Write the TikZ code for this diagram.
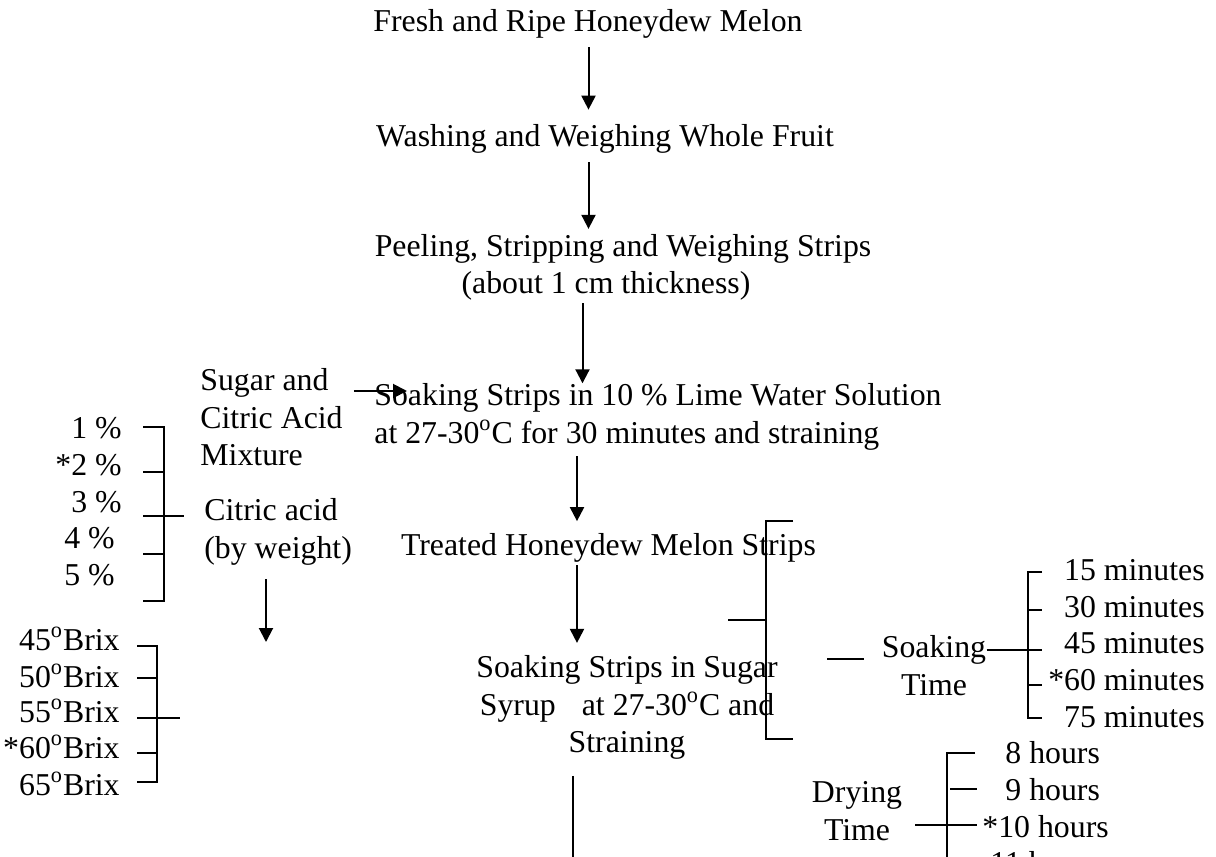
\documentclass[tikz,border=0pt]{standalone}
\usepackage{fontspec}
\setmainfont{Liberation Serif}
\usetikzlibrary{arrows.meta}

\begin{document}
\begin{tikzpicture}[x=0.5pt, y=-0.5pt,
    txt/.style={inner sep=0pt, font=\fontsize{15.9}{18.7}\selectfont},
    flow/.style={line width=1pt, -{Triangle[length=7pt, width=7pt]}},
    brk/.style={line width=1pt}]
    \clip (0,0) rectangle (1216,857);

    % Arrow columns
    \coordinate (colA) at (588.5,0);
    \coordinate (colC) at (582.5,0);
    \coordinate (colB) at (577,0);

    % Main process
    \node[txt, anchor=base] (fresh) at (588,31.7) {Fresh and Ripe Honeydew Melon};
    \node[txt, anchor=base] (wash) at (605,146.7) {Washing and Weighing Whole Fruit};
    \node[txt, anchor=base] (peel) at (623,256.7) {Peeling, Stripping and Weighing Strips};
    \node[txt, anchor=base] (peelsub) at (606,293.3) {(about 1 cm thickness)};
    \node[txt, anchor=north west, align=left] (lime) at (374,383.3)
        {Soaking Strips in 10 \% Lime Water Solution\\at 27-30\textsuperscript{o}C for 30 minutes and straining};
    \node[txt, anchor=base] (treated) at (608.5,555) {Treated Honeydew Melon Strips};
    \node[txt, anchor=north, align=center] (syrup) at (627,655.3)
        {Soaking Strips in Sugar\\Syrup\hspace{0.82em}at 27-30\textsuperscript{o}C and\\Straining};
    \coordinate (dryin) at (573,880);

    % Sugar and citric acid mixture
    \node[txt, anchor=north west, align=left] (sugar) at (200,368.5) {Sugar and\\Citric Acid\\Mixture};
    \node[txt, anchor=north west, align=left] (citric) at (204,498.3) {Citric acid\\(by weight)};
    \node[txt, anchor=base east] (pa) at (122,438) {1 \%};
    \node[txt, anchor=base east] (pb) at (122,475) {*2 \%};
    \node[txt, anchor=base east] (pc) at (122,512) {3 \%};
    \node[txt, anchor=base east] (pd) at (115,548) {4 \%};
    \node[txt, anchor=base east] (pe) at (115,585) {5 \%};
    \coordinate (brixin) at (266,642);

    % Syrup concentration
    \node[txt, anchor=base east] (ba) at (120,650) {45\textsuperscript{o}Brix};
    \node[txt, anchor=base east] (bb) at (120,687) {50\textsuperscript{o}Brix};
    \node[txt, anchor=base east] (bc) at (120,722) {55\textsuperscript{o}Brix};
    \node[txt, anchor=base east] (bd) at (120,758) {*60\textsuperscript{o}Brix};
    \node[txt, anchor=base east] (be) at (120,795) {65\textsuperscript{o}Brix};

    % Soaking time
    \node[txt, anchor=north, align=center] (soaktime) at (934,635.3) {Soaking\\Time};
    \node[txt, anchor=base east] (ma) at (1205,580) {15 minutes};
    \node[txt, anchor=base east] (mb) at (1205,617) {30 minutes};
    \node[txt, anchor=base east] (mc) at (1205,653) {45 minutes};
    \node[txt, anchor=base east] (md) at (1205,690) {*60 minutes};
    \node[txt, anchor=base east] (me) at (1205,727) {75 minutes};

    % Drying time
    \node[txt, anchor=north, align=center] (drying) at (857,781.3) {Drying\\Time};
    \node[txt, anchor=base west] (ha) at (1005,763) {8 hours};
    \node[txt, anchor=base west] (hb) at (1005,800) {9 hours};
    \node[txt, anchor=base west] (hc) at (982,837) {*10 hours};
    \node[txt, anchor=base west] (hd) at (990,873) {11 hours};

    % Flow arrows
    \draw[flow, shorten <=4.2pt, shorten >=7.3pt] (fresh.south -| colA) -- (wash.north -| colA);
    \draw[flow, shorten <=4.2pt, shorten >=2.7pt] (wash.south -| colA) -- (peel.north -| colA);
    \draw[flow, shorten <=1.5pt] (peelsub.south -| colC) -- (lime.north -| colC);
    \draw[flow, shorten <=3pt, shorten >=5.7pt] (lime.south -| colB) -- (treated.north -| colB);
    \draw[flow, shorten <=1.5pt, shorten >=6.2pt] (treated.south -| colB) -- (syrup.north -| colB);
    \draw[brk, shorten <=8pt] (syrup.south -| dryin) -- (dryin);
    \draw[flow] ([xshift=5.5pt, yshift=-11.25pt]sugar.north east) -- ([xshift=16.5pt, yshift=-3.85pt]lime.north west);
    \draw[flow, shorten <=7pt] (citric.south -| brixin) -- (brixin);

    % Brackets, left
    \draw[brk] (143,427) -- (164,427) -- (164,601) -- (143,601);
    \draw[brk] (143,472) -- (164,472) (143,516) -- (184,516) (143,554) -- (164,554);
    \draw[brk] (137,646) -- (157,646) -- (157,782) -- (137,782);
    \draw[brk] (137,678) -- (157,678) (137,718) -- (180,718) (137,753) -- (157,753);

    % Brackets, right
    \draw[brk] (793,521) -- (766,521) -- (766,739) -- (793,739);
    \draw[brk] (728,620) -- (766,620);
    \draw[brk] (827,659) -- (864,659);
    \draw[brk] ([yshift=-7.35pt]soaktime.north east) -- (1042,650);
    \draw[brk] (1042,572) -- (1028,572) -- (1028,718) -- (1042,718);
    \draw[brk] (1028,610) -- (1042,610) (1028,685) -- (1042,685);
    \draw[brk] (975,753) -- (947,753) -- (947,880);
    \draw[brk] (950,789) -- (977,789) (915,825) -- (977,825);
\end{tikzpicture}
\end{document}
